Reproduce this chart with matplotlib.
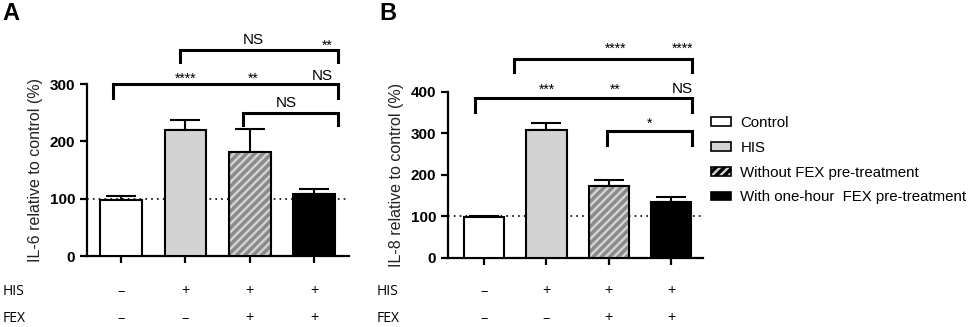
import matplotlib.pyplot as plt
import matplotlib.patches as mpatches
import matplotlib.transforms as mtrans

plt.rcParams['font.family'] = ['Liberation Sans', 'DejaVu Sans']
plt.rcParams['hatch.linewidth'] = 2.5
plt.rcParams['hatch.color'] = '#8a8a8a'

groups = ['Control', 'HIS', 'Without FEX pre-treatment', 'With one-hour  FEX pre-treatment']
his_row = ['\u2013', '+', '+', '+']
fex_row = ['\u2013', '\u2013', '+', '+']

il6_mean = [98, 220, 182, 109]
il6_err = [7, 18, 40, 8]
il8_mean = [98, 307, 173, 135]
il8_err = [3, 17, 14, 11]

# brackets: (x_left, x_right, y_top, y_drop)
il6_brackets = [(-0.12, 3.37, 300, 276), (0.91, 3.37, 360, 338), (1.9, 3.37, 250, 228)]
il6_labels = [(1.0, 319, '****'), (2.05, 319, '**'), (3.12, 314, 'NS'),
              (2.05, 377, 'NS'), (3.2, 377, '**'), (2.57, 267, 'NS')]
il8_brackets = [(-0.15, 3.34, 384, 350), (0.48, 3.34, 478, 447), (1.97, 3.34, 304, 272)]
il8_labels = [(1.0, 418, '***'), (2.1, 418, '**'), (3.18, 406, 'NS'),
              (2.1, 518, '****'), (3.19, 518, '****'), (2.65, 337, '*')]

faces = ['white', '#d3d3d3', '#d3d3d3', 'black']
hatches = [None, None, '////', None]

fig = plt.figure(figsize=(9.69, 3.27), dpi=100)
axA = fig.add_axes([0.0898, 0.217, 0.2703, 0.526])
axB = fig.add_axes([0.4623, 0.212, 0.2632, 0.508])

HIS_Y = 0.098
FEX_Y = 0.014


def draw(ax, mean, err, ymax, step, xlim, ylabel, brackets, labels):
    x = list(range(len(mean)))
    ax.axhline(100, color='black', ls=(0, (1, 2.5)), lw=1.2, zorder=1)
    ax.errorbar(x, mean, yerr=[[0] * len(err), err], fmt='none', ecolor='black',
                elinewidth=1.5, capsize=10.5, capthick=1.5, zorder=2)
    for i in x:
        ax.bar(i, mean[i], width=0.65, color=faces[i], hatch=hatches[i],
               edgecolor='#8a8a8a' if hatches[i] else faces[i], lw=0, zorder=3)
        ax.bar(i, mean[i], width=0.65, fill=False, edgecolor='black', lw=1.5, zorder=4)
    ax.set_xlim(*xlim)
    ax.set_ylim(0, ymax)
    ax.set_yticks(range(0, ymax + 1, step))
    ax.set_xticks(x)
    ax.set_xticklabels([])
    for s in ['top', 'right']:
        ax.spines[s].set_visible(False)
    for s in ['left', 'bottom']:
        ax.spines[s].set_linewidth(1.6)
    ax.tick_params(width=1.6, length=5, labelsize=11)
    for t in ax.get_yticklabels():
        t.set_fontweight('bold')
    ax.set_ylabel(ylabel, fontsize=11.5, color='#222222', labelpad=5)
    for x0, x1, yt, yd in brackets:
        ax.plot([x0, x0, x1, x1], [yd, yt, yt, yd], color='black', lw=2.2,
                clip_on=False, solid_joinstyle='miter')
    for xt, yt, s in labels:
        if s == 'NS':
            ax.text(xt, yt, s, ha='center', va='center', fontsize=11)
        else:
            ax.text(xt, yt - ymax * 0.035, s, ha='center', va='center', fontsize=10)
    tr = mtrans.blended_transform_factory(ax.transData, fig.transFigure)
    for i in x:
        ax.text(i, HIS_Y, his_row[i], transform=tr, ha='center', va='baseline',
                fontsize=10.5, family='Open Sans')
        ax.text(i, FEX_Y, fex_row[i], transform=tr, ha='center', va='baseline',
                fontsize=10.5, family='Open Sans')


draw(axA, il6_mean, il6_err, 300, 100, (-0.53, 3.54), 'IL-6 relative to control (%)',
     il6_brackets, il6_labels)
draw(axB, il8_mean, il8_err, 400, 100, (-0.58, 3.51), 'IL-8 relative to control (%)',
     il8_brackets, il8_labels)

for xf in [0.003, 0.389]:
    fig.text(xf, HIS_Y, 'HIS', ha='left', va='baseline', fontsize=10, family='Open Sans')
    fig.text(xf, FEX_Y, 'FEX', ha='left', va='baseline', fontsize=10, family='Open Sans')

fig.text(0.002, 0.995, 'A', ha='left', va='top', fontsize=17, fontweight='bold')
fig.text(0.391, 0.995, 'B', ha='left', va='top', fontsize=17, fontweight='bold')

handles = [mpatches.Patch(facecolor=faces[i], hatch=hatches[i], edgecolor='black', lw=1.2)
           for i in range(4)]
fig.legend(handles, groups, loc='center left', bbox_to_anchor=(0.734, 0.51),
           frameon=False, fontsize=10.8, handlelength=1.3, handleheight=0.5,
           labelspacing=0.72, handletextpad=0.65, borderpad=0, borderaxespad=0)

fig.savefig('out.png', dpi=100)
